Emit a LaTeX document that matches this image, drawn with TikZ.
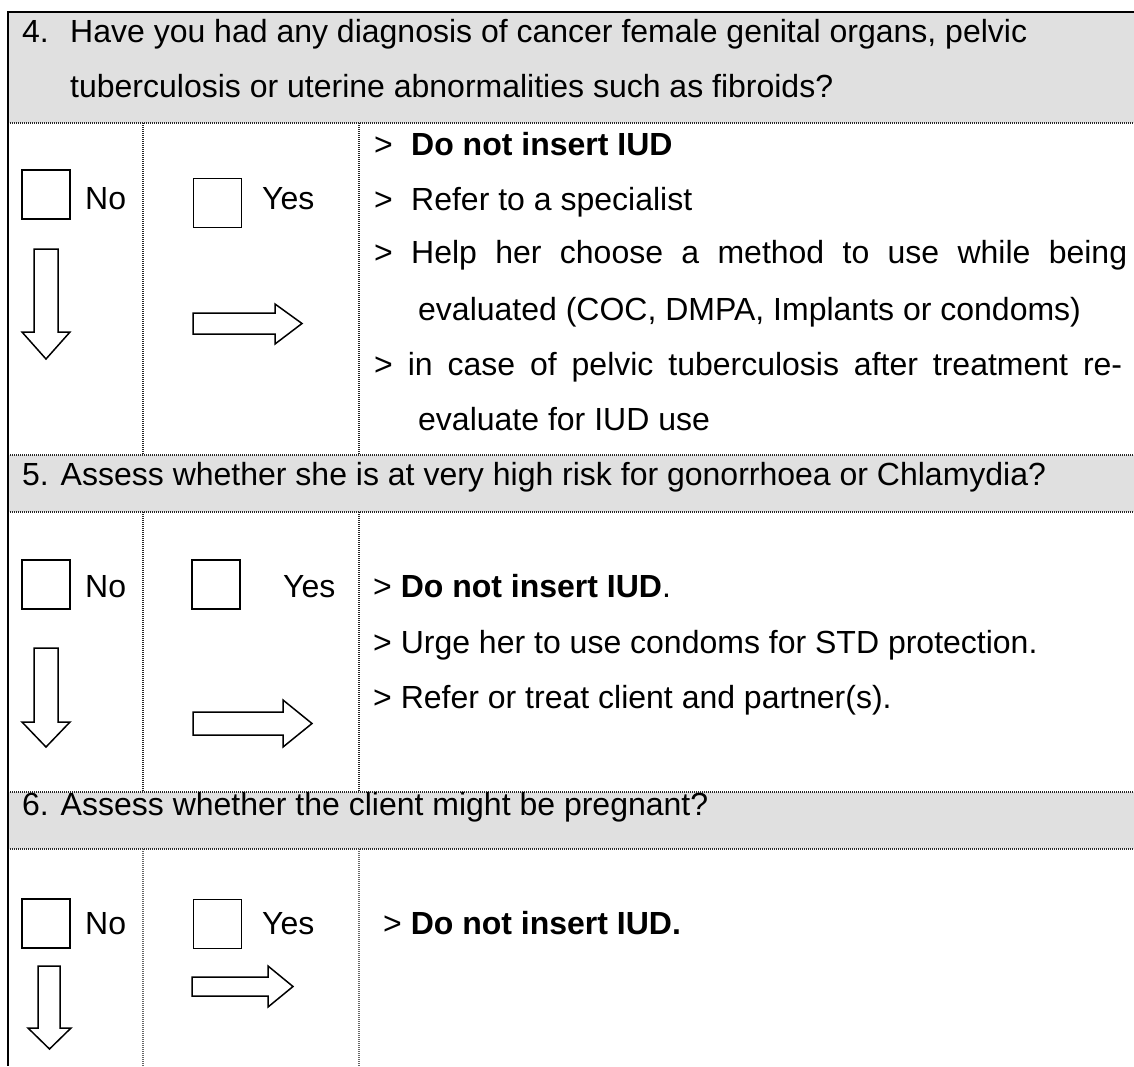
\documentclass[tikz,border=0pt]{standalone}
\usepackage{fontspec}
\setmainfont{Liberation Sans}
\definecolor{hdr}{RGB}{224,224,224}
\begin{document}
\begin{tikzpicture}[x=1pt,y=-1pt,
  txt/.style={anchor=base west,inner sep=0pt,font=\fontsize{32}{38}\selectfont},
  cbox/.style={draw,line width=1.5pt,minimum width=48pt,minimum height=49pt,inner sep=0pt},
  sep/.style={line width=1.5pt,black!85,dash pattern=on 1pt off 1pt},
  sepg/.style={line width=1.5pt,black!60,dash pattern=on 1pt off 1pt},
  blockarrow/.style={draw,line width=1.5pt,fill=white,line join=miter}]
\useasboundingbox (0,0) rectangle (1134,1066);
% header fills
\fill[hdr] (8,12) rectangle (1134,123);
\fill[hdr] (8,455) rectangle (1134,512);
\fill[hdr] (8,792) rectangle (1134,849);
% separators
\foreach \y in {123,455,512,792,849} \draw[sep] (8,\y) -- (1134,\y);
\foreach \x in {143,359} {
  \draw[sep] (\x,123) -- (\x,455);
  \draw[sep] (\x,512) -- (\x,792);
  \draw[sepg] (\x,849) -- (\x,1066);
}
% outer border
\draw[line width=2pt] (1134,12) -- (8,12) -- (8,1066);

% ---------- block 4 ----------
\node[txt] (h4n) at (22,42) {4.};
\node[txt] (h4a) at (70,42) {Have you had any diagnosis of cancer female genital organs, pelvic};
\node[txt] (h4b) at (70,97) {tuberculosis or uterine abnormalities such as fibroids?};
\node[cbox] (c4no) at (46,194.5) {};
\node[txt] (l4no) at (85,209) {No};
\node[cbox] (c4yes) at (217.5,203) {};
\node[txt] (l4yes) at (262,209) {Yes};
\draw[blockarrow] (34,249) -- (58,249) -- (58,332) -- (70,332) -- (46,359) -- (22,332) -- (34,332) -- cycle;
\draw[blockarrow] (193,313) -- (275,313) -- (275,304) -- (302,323.5) -- (275,344) -- (275,334) -- (193,334) -- cycle;
\node[txt] (g4a) at (374,155) {>};
\node[txt] (t4a) at (411,155) {\textbf{Do not insert IUD}};
\node[txt] (g4b) at (374,210) {>};
\node[txt] (t4b) at (411,210) {Refer to a specialist};
\node[txt] (t4c) at (374,263) {\makebox[753pt][s]{> Help her choose a method to use while being}};
\node[txt] (t4d) at (418,320) {evaluated (COC, DMPA, Implants or condoms)};
\node[txt] (t4e) at (374,375) {\makebox[748pt][s]{> in case of pelvic tuberculosis after treatment re-}};
\node[txt] (t4f) at (418,430) {evaluate for IUD use};

% ---------- block 5 ----------
\node[txt] (h5) at (22,485) {5. Assess whether she is at very high risk for gonorrhoea or Chlamydia?};
\node[cbox] (c5no) at (46,584.5) {};
\node[txt] (l5no) at (85,597) {No};
\node[cbox] (c5yes) at (216,584.5) {};
\node[txt] (l5yes) at (283,597) {Yes};
\draw[blockarrow] (34,648) -- (58,648) -- (58,722) -- (70,722) -- (46,747) -- (22,722) -- (34,722) -- cycle;
\draw[blockarrow] (193,712) -- (283,712) -- (283,700) -- (312,723.5) -- (283,747) -- (283,735) -- (193,735) -- cycle;
\node[txt] (t5a) at (373,597) {> \textbf{Do not insert IUD}.};
\node[txt] (t5b) at (373,653) {> Urge her to use condoms for STD protection.};
\node[txt] (t5c) at (373,708) {> Refer or treat client and partner(s).};

% ---------- block 6 ----------
\node[txt] (h6) at (22,815) {6. Assess whether the client might be pregnant?};
\node[cbox] (c6no) at (46,923.5) {};
\node[txt] (l6no) at (85,934) {No};
\node[cbox] (c6yes) at (217.5,924) {};
\node[txt] (l6yes) at (262,934) {Yes};
\draw[blockarrow] (38,966) -- (60,966) -- (60,1028) -- (71,1028) -- (49.5,1049) -- (28,1028) -- (38,1028) -- cycle;
\draw[blockarrow] (192,977) -- (268,977) -- (268,966) -- (293,986.5) -- (268,1007) -- (268,996) -- (192,996) -- cycle;
\node[txt] (t6a) at (383,934) {> \textbf{Do not insert IUD.}};
\end{tikzpicture}
\end{document}
